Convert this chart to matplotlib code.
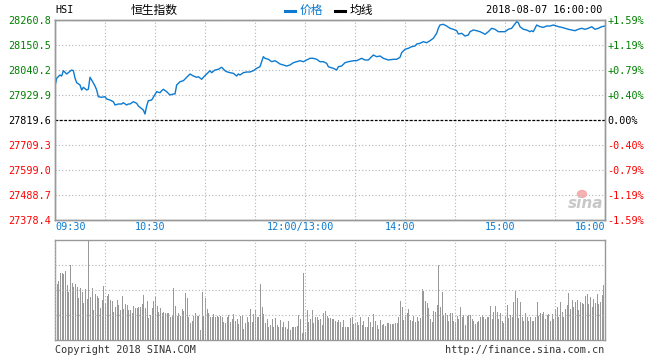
import numpy as np
import matplotlib as mpl
import matplotlib.pyplot as plt
from matplotlib.lines import Line2D
from matplotlib.patches import Ellipse
import matplotlib.transforms as mtrans

mpl.use('Agg')
plt.rcParams['font.family'] = ['DejaVu Sans Mono', 'Noto Sans CJK SC']

# ~~~~~~~~~~ data (HSI, 2018-08-07) ~~~~~~~~~~ #
prev_close = 27819.6
levels = [28260.8, 28150.5, 28040.2, 27929.9, 27819.6, 27709.3, 27599.0, 27488.7, 27378.4]
pct_labels = ['+1.59%', '+1.19%', '+0.79%', '+0.40%', '0.00%', '-0.40%', '-0.79%', '-1.19%', '-1.59%']

# trading minutes since 09:30 (12:00-13:00 lunch removed)
minutes = [0, 1, 3, 4, 5, 7, 8, 10, 11, 12, 13, 15, 16, 17, 19, 20, 21, 22, 24, 25,
           26, 28, 30, 31, 33, 35, 36, 38, 40, 41, 43, 44, 45, 47, 49, 50, 51, 53, 54, 55,
           56, 58, 59, 61, 63, 64, 65, 67, 69, 71, 72, 73, 75, 77, 79, 81, 83, 85, 86, 88,
           89, 91, 93, 94, 96, 98, 100, 102, 103, 105, 107, 109, 110, 111, 113, 115, 117, 119, 121, 123,
           124, 125, 126, 128, 130, 132, 133, 135, 137, 139, 141, 143, 145, 147, 149, 151, 153, 155, 157, 159,
           161, 163, 164, 165, 167, 169, 170, 172, 174, 176, 179, 181, 184, 186, 188, 191, 193, 195, 197, 200,
           203, 205, 207, 208, 210, 212, 214, 216, 217, 219, 221, 223, 225, 227, 229, 230, 231, 233, 235, 237,
           239, 241, 242, 244, 246, 248, 249, 251, 253, 255, 257, 258, 260, 262, 264, 266, 268, 270, 272, 274,
           275, 277, 278, 279, 281, 283, 285, 286, 287, 289, 291, 293, 295, 297, 299, 301, 302, 304, 306, 308,
           310, 312, 314, 316, 318, 320, 322, 324, 326, 328, 330]
prices = [27969.6, 28003.6, 28018.1, 28013.7, 28037.1, 28022.6, 28028.3, 28040.2, 28037.1, 28004.9,
          27984.2, 27974.0, 27952.0, 27963.9, 27952.0, 27955.0, 28008.0, 27996.1, 27969.6, 27952.0,
          27922.4, 27919.8, 27922.4, 27912.3, 27907.8, 27900.3, 27885.8, 27890.2, 27890.2, 27895.9,
          27885.8, 27890.2, 27890.2, 27900.3, 27893.3, 27881.4, 27875.6, 27863.7, 27846.1, 27881.4,
          27904.8, 27907.8, 27919.8, 27944.5, 27940.0, 27948.9, 27955.0, 27944.5, 27929.9, 27934.3,
          27934.3, 27974.0, 27988.6, 27993.0, 28008.0, 28022.6, 28013.7, 28008.0, 28010.6, 27999.2,
          28008.0, 28022.6, 28037.1, 28028.3, 28040.2, 28043.3, 28052.1, 28037.1, 28032.7, 28028.3,
          28025.6, 28013.7, 28022.6, 28018.1, 28028.3, 28031.4, 28031.4, 28037.1, 28047.7, 28054.8,
          28076.8, 28098.9, 28091.8, 28087.4, 28076.8, 28081.2, 28076.8, 28066.7, 28062.3, 28057.8,
          28062.3, 28072.4, 28076.8, 28081.2, 28076.8, 28084.3, 28091.8, 28091.8, 28087.4, 28076.8,
          28076.8, 28069.8, 28054.8, 28052.1, 28047.7, 28040.2, 28054.8, 28057.8, 28072.4, 28076.8,
          28081.2, 28081.2, 28091.8, 28084.3, 28084.3, 28106.4, 28098.9, 28102.0, 28091.8, 28084.3,
          28087.4, 28087.4, 28096.2, 28116.5, 28131.5, 28135.9, 28143.0, 28146.1, 28154.9, 28158.0,
          28165.1, 28160.6, 28169.5, 28180.1, 28202.1, 28224.2, 28238.7, 28241.8, 28234.3, 28224.2,
          28219.8, 28213.6, 28199.0, 28202.1, 28190.2, 28194.6, 28209.2, 28216.7, 28213.6, 28209.2,
          28202.1, 28197.7, 28209.2, 28224.2, 28219.8, 28209.2, 28209.2, 28209.2, 28219.8, 28224.2,
          28234.3, 28253.3, 28248.9, 28231.2, 28219.8, 28216.7, 28209.2, 28213.6, 28209.2, 28238.7,
          28231.2, 28228.6, 28234.3, 28234.3, 28238.7, 28234.3, 28231.2, 28228.6, 28224.2, 28219.8,
          28216.7, 28213.6, 28219.8, 28224.2, 28219.8, 28224.2, 28231.2, 28219.8, 28224.2, 28231.2,
          28234.3]

# volume per minute (relative units, panel top = 100)
volume = [67, 56, 59, 67, 67, 66, 69, 55, 48, 75,
          57, 53, 56, 53, 42, 52, 48, 37, 51, 41,
          99, 43, 52, 30, 46, 44, 42, 32, 40, 54,
          37, 44, 46, 40, 39, 28, 33, 40, 35, 30,
          44, 31, 36, 35, 30, 30, 27, 34, 32, 32,
          33, 33, 36, 45, 32, 39, 22, 25, 32, 39,
          43, 34, 28, 32, 27, 28, 27, 27, 27, 23,
          24, 52, 34, 24, 27, 24, 31, 29, 47, 42,
          23, 17, 19, 24, 27, 24, 24, 10, 48, 24,
          42, 31, 27, 23, 23, 26, 23, 24, 23, 24,
          23, 18, 17, 23, 25, 18, 21, 26, 19, 21,
          16, 24, 25, 11, 17, 23, 18, 31, 18, 26,
          30, 23, 23, 56, 33, 26, 17, 21, 13, 15,
          21, 13, 22, 15, 13, 20, 13, 18, 13, 11,
          19, 10, 13, 13, 13, 14, 25, 21, 7, 67,
          8, 30, 18, 21, 30, 17, 23, 23, 20, 21,
          15, 27, 29, 24,
          22, 22, 21, 21, 19, 18, 20, 18, 13, 20,
          13, 13, 13, 22, 23, 16, 17, 18, 15, 23,
          15, 19, 13, 13, 23, 18, 13, 26, 19, 15,
          11, 20, 15, 16, 14, 17, 17, 16, 16, 16,
          17, 17, 23, 39, 33, 20, 25, 27, 31, 20,
          19, 24, 18, 23, 19, 22, 51, 49, 39, 37,
          32, 21, 18, 29, 28, 35, 75, 33, 48, 25,
          27, 25, 19, 27, 27, 19, 18, 24, 21, 33,
          23, 25, 15, 24, 25, 25, 21, 19, 16, 18,
          19, 23, 25, 23, 21, 23, 23, 34, 21, 28,
          34, 28, 21, 27, 19, 17, 24, 35, 22, 25,
          23, 38, 49, 42, 22, 38, 23, 19, 27, 23,
          19, 23, 19, 19, 23, 38, 24, 27, 26, 28,
          21, 25, 26, 19, 26, 21, 31, 33, 23, 38,
          28, 23, 31, 35, 47, 31, 40, 33, 38, 40,
          30, 38, 37, 36, 44, 46, 36, 43, 33, 41,
          37, 46, 36, 38, 45, 55, 71]

time_ticks = [0, 60, 150, 210, 270, 330]
time_labels = ['09:30', '10:30', '12:00/13:00', '14:00', '15:00', '16:00']

# ~~~~~~~~~~ style ~~~~~~~~~~ #
W, H = 660, 360
BLUE = '#0b7ad0'
GREEN = '#008000'
RED = '#ff0000'
FRAME = '#999999'
GRID = '#b4b4b4'


def label_color(v):
    if v > prev_close + 0.05:
        return GREEN
    if v < prev_close - 0.05:
        return RED
    return 'black'


fig = plt.figure(figsize=(W / 100, H / 100), dpi=100)
ax = fig.add_axes([55 / W, 140 / H, 550 / W, 200 / H])
vax = fig.add_axes([55 / W, 20 / H, 550 / W, 100 / H])

# price panel
ax.plot(minutes, prices, color=BLUE, lw=1.0, zorder=3)
ax.axhline(prev_close, color='black', lw=0.9, ls=(0, (2.2, 1.3)), zorder=2)
ax.set_xlim(0, 330)
ax.set_ylim(levels[-1], levels[0])
ax.set_xticks(range(0, 331, 30))
ax.set_xticklabels([])
ax.set_yticks(levels)
ax.set_yticklabels([f'{v:.1f}' for v in levels])
ax.tick_params(axis='both', length=0, labelsize=7.3, pad=3)
for lbl, v in zip(ax.get_yticklabels(), levels):
    lbl.set_color(label_color(v))
ax.grid(True, color=GRID, lw=0.8, ls=(0, (1, 2)))

ax2 = ax.twinx()
ax2.set_ylim(ax.get_ylim())
ax2.set_yticks(levels)
ax2.set_yticklabels(pct_labels)
ax2.tick_params(axis='y', length=0, labelsize=7.3, pad=1.5)
for lbl, v in zip(ax2.get_yticklabels(), levels):
    lbl.set_color(label_color(v))

for a in (ax, ax2, vax):
    for s in a.spines.values():
        s.set_color(FRAME)
        s.set_linewidth(1.0)

trans = mtrans.blended_transform_factory(ax.transData, ax.transAxes)
aligns = ['left', 'center', 'center', 'center', 'center', 'right']
shift = [0, -3, -3, -3, -3, 0]
for t, lab, ha, dx in zip(time_ticks, time_labels, aligns, shift):
    ax.text(t + dx, -0.035, lab, transform=trans, ha=ha, va='center',
            fontsize=7.3, color=BLUE)

# volume panel: one 1-px stick per minute
vax.vlines(range(len(volume)), 0, volume, colors='#999999', lw=0.72,
           antialiased=False)
vax.set_xlim(0, 330)
vax.set_ylim(0, 100)
vax.set_xticks(range(0, 331, 30))
vax.set_yticks([25, 50, 75])
vax.set_xticklabels([])
vax.set_yticklabels([])
vax.tick_params(length=0)
vax.grid(True, color=GRID, lw=0.8, ls=(0, (1, 2)))
vax.set_axisbelow(False)

# header
fig.text(55 / W, 1 - 10 / H, 'HSI', fontsize=7.3, va='center', ha='left')
fig.text(154 / W, 1 - 10 / H, '恒生指数', family=['Noto Sans CJK SC', 'DejaVu Sans'],
         fontsize=8.5, va='center', ha='center')
fig.add_artist(Line2D([285 / W, 295 / W], [1 - 11 / H, 1 - 11 / H], color=BLUE, lw=2.2))
fig.text(300 / W, 1 - 10 / H, '价格', family=['Noto Sans CJK SC', 'DejaVu Sans'],
         fontsize=8.5, va='center', ha='left', color=BLUE)
fig.add_artist(Line2D([335 / W, 345 / W], [1 - 11 / H, 1 - 11 / H], color='black', lw=2.2))
fig.text(350 / W, 1 - 10 / H, '均线', family=['Noto Sans CJK SC', 'DejaVu Sans'],
         fontsize=8.5, va='center', ha='left')
fig.text(602 / W, 1 - 10 / H, '2018-08-07 16:00:00', fontsize=7.3, va='center', ha='right')

# footer
fig.text(55 / W, 1 - 350 / H, 'Copyright 2018 SINA.COM', fontsize=7.3, va='center',
         ha='left', color='#333333')
fig.text(604 / W, 1 - 350 / H, 'http://finance.sina.com.cn', fontsize=7.3, va='center',
         ha='right', color='#333333')

# sina watermark
fig.add_artist(Ellipse((582 / W, 1 - 194 / H), 9 / W, 7 / H, color='#f4a0a0', alpha=0.8))
fig.text(586 / W, 1 - 204 / H, 'sina', fontsize=11, style='italic', weight='bold',
         family='DejaVu Sans', color='#c8c8c8', ha='center', va='center')

fig.savefig('out.png', dpi=100)
